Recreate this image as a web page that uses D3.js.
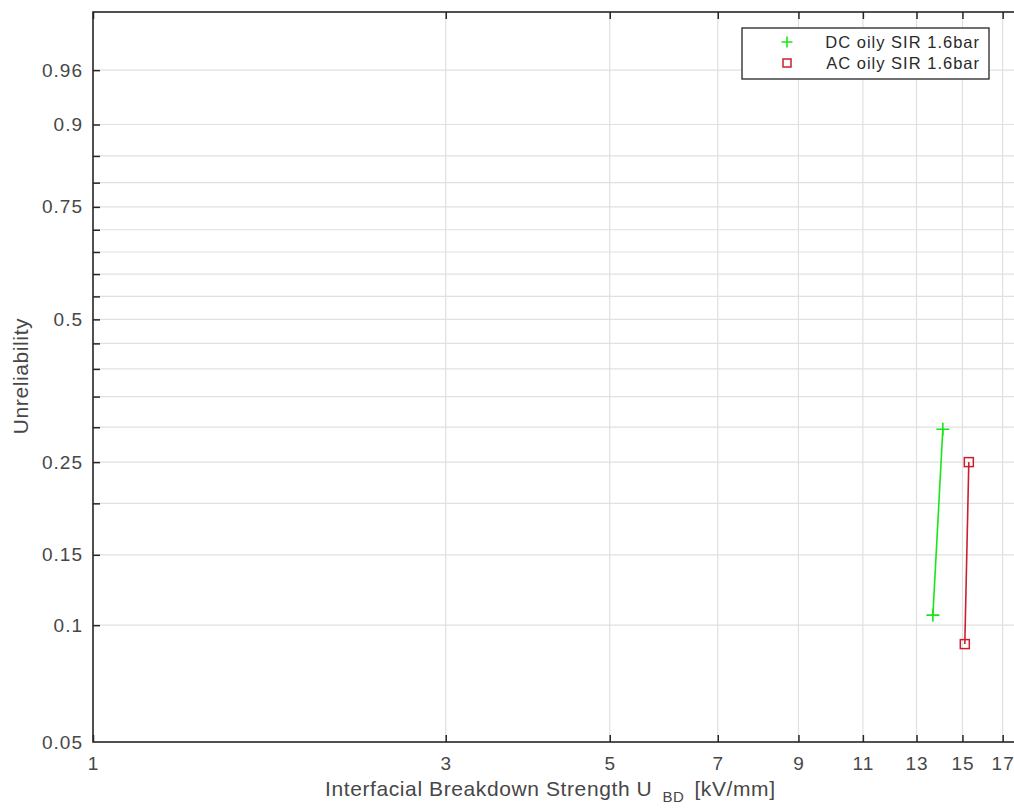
<!DOCTYPE html>
<html>
<head>
<meta charset="utf-8">
<script src="https://cdn.jsdelivr.net/npm/d3@7"></script>
<style>
  html, body { margin: 0; padding: 0; background: #fff; }
  svg { display: block; font-family: "Liberation Sans", Arial, sans-serif; }
</style>
</head>
<body>
<svg id="chart" width="1014" height="808"></svg>
<script>
// Breakdown field strength (kV/mm) and unreliability for each series
const dcVoltage = [13.68, 14.11];
const dcUnreliability = [0.106, 0.297];
const acVoltage = [15.11, 15.30];
const acUnreliability = [0.0895, 0.25];

const seriesNames = ["DC oily SIR 1.6bar", "AC oily SIR 1.6bar"];

// Axis ticks and grid levels
const xTicks = [1, 3, 5, 7, 9, 11, 13, 15, 17];
const yGrid = [0.1, 0.15, 0.2, 0.25, 0.3, 0.35, 0.4, 0.45, 0.5, 0.55, 0.6,
               0.65, 0.7, 0.75, 0.8, 0.85, 0.9, 0.96];
const yLabels = [0.05, 0.1, 0.15, 0.25, 0.5, 0.75, 0.9, 0.96];
const xDomain = [1, 18];
const yDomain = [0.05, 0.99];

const svg = d3.select("#chart");
const plotL = 93, plotR = 1021, plotT = 12, plotB = 742;

// Weibull probability transform
const weib = p => Math.log(-Math.log(1 - p));

const x = d3.scaleLog().domain(xDomain).range([plotL, plotR]);
const yLin = d3.scaleLinear().domain(yDomain.map(weib)).range([plotB, plotT]);
const y = p => yLin(weib(p));

const axisColor = "#262626";
const textColor = "#474747";
const gridColor = "#e0e0e0";

// Grid
const grid = svg.append("g");
grid.selectAll("line.h").data(yGrid).join("line").attr("class", "h")
  .attr("x1", plotL).attr("x2", plotR)
  .attr("y1", d => y(d)).attr("y2", d => y(d))
  .attr("stroke", gridColor).attr("stroke-width", 1.2);
grid.selectAll("line.v").data(xTicks.slice(1)).join("line").attr("class", "v")
  .attr("x1", d => x(d)).attr("x2", d => x(d))
  .attr("y1", plotT).attr("y2", plotB)
  .attr("stroke", gridColor).attr("stroke-width", 1.2);

// Axes (inward ticks, mirrored on top and right)
const tickLen = 7;
const xAxisBottom = d3.axisTop(x).tickValues(xTicks).tickSize(tickLen).tickFormat("");
const xAxisTop = d3.axisBottom(x).tickValues(xTicks).tickSize(tickLen).tickFormat("");
const yAxisLeft = d3.axisRight(yLin).tickValues(yGrid.map(weib)).tickSize(tickLen).tickFormat("");
const yAxisRight = d3.axisLeft(yLin).tickValues(yGrid.map(weib)).tickSize(tickLen).tickFormat("");

function styleAxis(g) {
  g.select(".domain").remove();
  g.selectAll(".tick line").attr("stroke", axisColor).attr("stroke-width", 1.5);
}
svg.append("g").attr("transform", `translate(0,${plotB})`).call(xAxisBottom).call(styleAxis);
svg.append("g").attr("transform", `translate(0,${plotT})`).call(xAxisTop).call(styleAxis);
svg.append("g").attr("transform", `translate(${plotL},0)`).call(yAxisLeft).call(styleAxis);
svg.append("g").attr("transform", `translate(${plotR},0)`).call(yAxisRight).call(styleAxis);

// Frame
svg.append("rect")
  .attr("x", plotL).attr("y", plotT)
  .attr("width", plotR - plotL).attr("height", plotB - plotT)
  .attr("fill", "none").attr("stroke", axisColor).attr("stroke-width", 1.6);

// Tick labels
svg.append("g").selectAll("text").data(xTicks).join("text")
  .attr("x", d => x(d) + 0.5).attr("y", 770)
  .attr("text-anchor", "middle")
  .attr("font-size", 19).attr("letter-spacing", 1).attr("fill", textColor)
  .text(d => d);

svg.append("g").selectAll("text").data(yLabels).join("text")
  .attr("x", 83).attr("y", d => y(d) + 6.5)
  .attr("text-anchor", "end")
  .attr("font-size", 19).attr("letter-spacing", 1).attr("fill", textColor)
  .text(d => d);

// Axis titles
const xTitle = svg.append("text")
  .attr("x", 325).attr("y", 796)
  .attr("font-size", 21).attr("letter-spacing", 0.6).attr("fill", textColor);
xTitle.append("tspan").text("Interfacial Breakdown Strength U");
xTitle.append("tspan").attr("dx", 10).attr("dy", 6).attr("font-size", 15).text("BD");
xTitle.append("tspan").attr("dx", 10).attr("dy", -6).text("[kV/mm]");

svg.append("text")
  .attr("transform", "translate(28,376) rotate(-90)")
  .attr("text-anchor", "middle")
  .attr("font-size", 21).attr("letter-spacing", 0.6).attr("fill", textColor)
  .text("Unreliability");

// Series
const green = "#19e619";
const red = "#cc1f2e";
const line = d3.line().x(d => x(d[0])).y(d => y(d[1]));

const dcPts = dcVoltage.map((v, i) => [v, dcUnreliability[i]]);
const acPts = acVoltage.map((v, i) => [v, acUnreliability[i]]);

svg.append("path").datum(dcPts).attr("d", line)
  .attr("fill", "none").attr("stroke", green).attr("stroke-width", 1.6);
svg.append("path").datum(acPts).attr("d", line)
  .attr("fill", "none").attr("stroke", red).attr("stroke-width", 1.6);

function drawPlus(g, cx, cy, s, color) {
  g.append("path")
    .attr("d", `M${cx - s},${cy}H${cx + s}M${cx},${cy - s}V${cy + s}`)
    .attr("stroke", color).attr("stroke-width", 1.6).attr("fill", "none");
}
function drawSquare(g, cx, cy, s, color) {
  g.append("rect")
    .attr("x", cx - s).attr("y", cy - s).attr("width", 2 * s).attr("height", 2 * s)
    .attr("stroke", color).attr("stroke-width", 1.5).attr("fill", "none");
}

const marks = svg.append("g");
dcPts.forEach(d => drawPlus(marks, x(d[0]), y(d[1]), 6.5, green));
acPts.forEach(d => drawSquare(marks, x(d[0]), y(d[1]), 4.5, red));

// Legend
const lg = svg.append("g");
lg.append("rect")
  .attr("x", 742).attr("y", 28).attr("width", 247).attr("height", 51)
  .attr("fill", "#fff").attr("stroke", axisColor).attr("stroke-width", 1.3);
drawPlus(lg, 787, 42, 5.5, green);
drawSquare(lg, 787, 63, 4, red);
lg.selectAll("text").data(seriesNames).join("text")
  .attr("x", 980).attr("y", (d, i) => 48 + i * 21)
  .attr("text-anchor", "end")
  .attr("font-size", 16.5).attr("letter-spacing", 1).attr("fill", "#2a2a2a")
  .text(d => d);
</script>
</body>
</html>
